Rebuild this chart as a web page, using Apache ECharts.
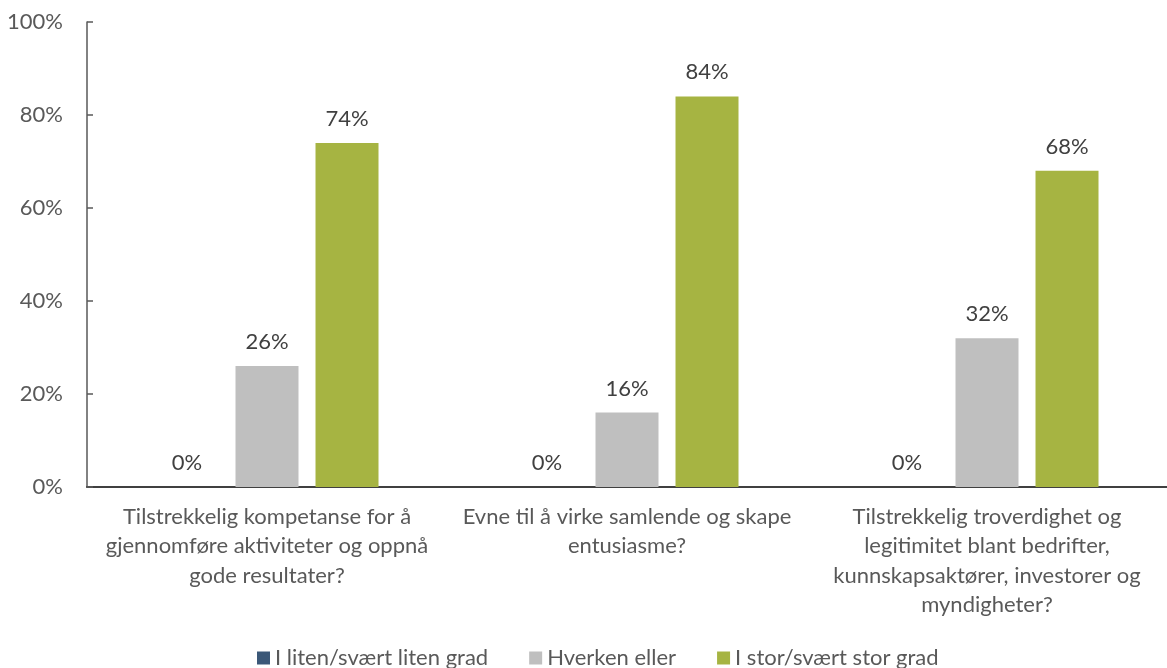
<!DOCTYPE html>
<html>
<head>
<meta charset="utf-8">
<script src="https://cdn.jsdelivr.net/npm/echarts@6/dist/echarts.min.js"></script>
<style>
  html, body { margin: 0; padding: 0; background: #fff; }
  #chart { width: 1167px; height: 668px; }
</style>
</head>
<body>
<div id="chart"></div>
<script>
// Survey questions (category axis)
const categories = [
  'Tilstrekkelig kompetanse for å\ngjennomføre aktiviteter og oppnå\ngode resultater?',
  'Evne til å virke samlende og skape\nentusiasme?',
  'Tilstrekkelig troverdighet og\nlegitimitet blant bedrifter,\nkunnskapsaktører, investorer og\nmyndigheter?'
];

// Answer groups and their shares (%)
const seriesNames = ['I liten/svært liten grad', 'Hverken eller', 'I stor/svært stor grad'];
const lowValues = [0, 0, 0];
const neutralValues = [26, 16, 32];
const highValues = [74, 84, 68];

// Y-axis tick values (%)
const yTicks = [0, 20, 40, 60, 80, 100];

const FONT = 'Lato, "Open Sans", sans-serif';
const FONT_SIZE = 22;
const colors = ['#3b5878', '#bfbfbf', '#a6b442'];

const labelStyle = {
  show: true,
  position: 'top',
  distance: 13,
  formatter: p => p.value + '%',
  color: '#404040',
  fontFamily: FONT,
  fontSize: FONT_SIZE
};

function barSeries(name, data, color) {
  return {
    name: name,
    type: 'bar',
    data: data,
    barWidth: 63,
    barGap: '27%',
    itemStyle: { color: color },
    label: labelStyle
  };
}

const chart = echarts.init(document.getElementById('chart'), null, { renderer: 'canvas' });
chart.setOption({
  animation: false,
  color: colors,
  // plot area runs slightly past the right edge of the canvas
  grid: { left: 87, width: 1088, top: 22, bottom: 181, containLabel: false },
  legend: {
    top: 647,
    left: 257,
    padding: 0,
    itemWidth: 13,
    itemHeight: 13,
    itemGap: 41,
    icon: 'rect',
    textStyle: { color: '#595959', fontFamily: FONT, fontSize: FONT_SIZE },
    data: seriesNames
  },
  xAxis: {
    type: 'category',
    data: categories,
    axisLine: { lineStyle: { color: '#404040', width: 2 } },
    axisTick: { show: false },
    axisLabel: {
      color: '#595959',
      fontFamily: FONT,
      fontSize: FONT_SIZE,
      lineHeight: 29.5,
      margin: 15,
      interval: 0,
      align: 'center'
    }
  },
  yAxis: {
    type: 'value',
    min: yTicks[0],
    max: yTicks[yTicks.length - 1],
    interval: yTicks[1] - yTicks[0],
    axisLine: { show: true, lineStyle: { color: '#595959', width: 1.5 } },
    axisTick: { show: true, inside: true, length: 6, lineStyle: { color: '#595959', width: 1.5 } },
    splitLine: { show: false },
    axisLabel: {
      color: '#595959',
      fontFamily: FONT,
      fontSize: FONT_SIZE,
      margin: 24,
      formatter: v => v + '%'
    }
  },
  series: [
    barSeries(seriesNames[0], lowValues, colors[0]),
    barSeries(seriesNames[1], neutralValues, colors[1]),
    barSeries(seriesNames[2], highValues, colors[2])
  ]
});
</script>
</body>
</html>
